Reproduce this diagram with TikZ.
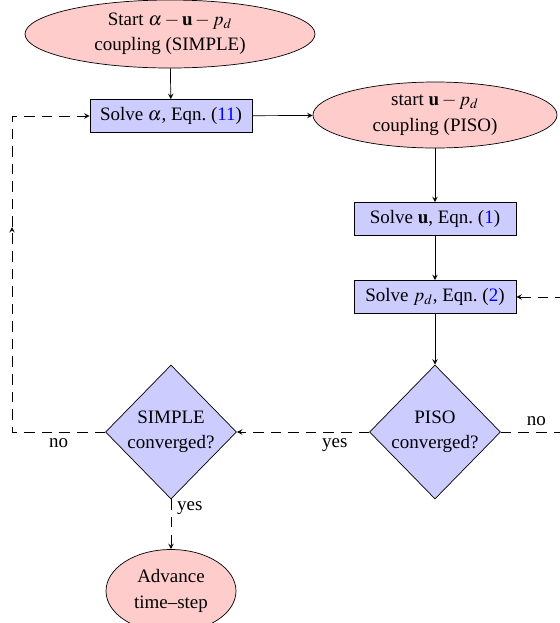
\documentclass[tikz,border=0pt]{standalone}
\usepackage{mathptmx}
\usepackage{fontspec}
\setmainfont{Liberation Serif}
\usepackage{amsmath}
\usetikzlibrary{shapes.geometric,arrows}

\begin{document}
\begin{tikzpicture}[>=stealth,
  font=\fontsize{10.8}{14.5}\selectfont,
  startstop/.style={shape=ellipse,draw=black,fill=red!20,align=center,inner sep=1pt},
  solvebox/.style={shape=rectangle,draw=black,fill=blue!20,minimum width=3.24cm,minimum height=0.66cm},
  check/.style={shape=diamond,draw=black,fill=blue!20,align=center,minimum width=2.62cm,minimum height=2.68cm,inner sep=0pt},
  loopline/.style={dash pattern=on 6pt off 4pt}]
\useasboundingbox (0,0) rectangle (11.2,-12.46);

\node[startstop,minimum width=5.8cm,minimum height=1.36cm] (startsimple) at (3.40,-0.68) {Start $\alpha-\mathbf{u}-p_d$\\coupling (SIMPLE)};
\node[solvebox] (solvealpha) at (3.42,-2.32) {Solve $\alpha$, Eqn.~(\textcolor{blue}{11})};
\node[startstop,minimum width=4.88cm,minimum height=1.32cm] (startpiso) at (8.70,-2.30) {start $\mathbf{u}-p_d$\\coupling (PISO)};
\node[solvebox] (solveu) at (8.70,-4.38) {Solve $\mathbf{u}$, Eqn.~(\textcolor{blue}{1})};
\node[solvebox] (solvep) at (8.70,-5.94) {Solve $p_d$, Eqn.~(\textcolor{blue}{2})};
\node[check] (pisoconv) at (8.70,-8.64) {PISO\\converged?};
\node[check] (simpleconv) at (3.42,-8.64) {SIMPLE\\converged?};
\node[startstop,minimum width=2.6cm,minimum height=1.66cm] (advance) at (3.42,-11.82) {Advance\\time--step};

\coordinate (loopmid) at (0.24,-4.54);
\coordinate (pisoright) at (11.6,-8.64);

\draw[->] (startsimple) -- (solvealpha);
\draw[->] (solvealpha) -- (startpiso);
\draw[->] (startpiso) -- (solveu);
\draw[->] (solveu) -- (solvep);
\draw[->] (solvep) -- (pisoconv);

\draw[->,loopline] (pisoconv) -- node[pos=0.26,below] {yes} (simpleconv);
\draw[->,loopline] (simpleconv) -- node[pos=0.18,right] {yes} (advance);
\draw[->,loopline] (simpleconv.west) -| node[pos=0.25,below] {no} (loopmid);
\draw[->,loopline] (loopmid) |- (solvealpha.west);
\draw[->,loopline] (pisoconv.east) -- node[pos=0.45,above] {no} (pisoright) |- (solvep.east);
\end{tikzpicture}
\end{document}
